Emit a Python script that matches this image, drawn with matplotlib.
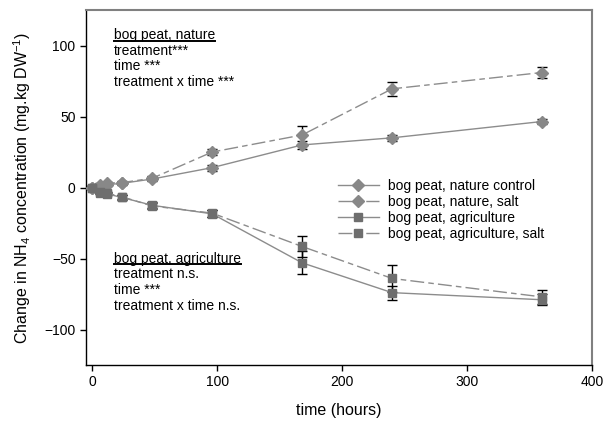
import numpy as np
import matplotlib
matplotlib.use("Agg")
import matplotlib.pyplot as plt
from matplotlib.lines import Line2D

plt.rcParams['font.family'] = ['Liberation Sans', 'DejaVu Sans']
plt.rcParams['mathtext.fontset'] = 'custom'
plt.rcParams['mathtext.rm'] = 'Liberation Sans'
plt.rcParams['mathtext.it'] = 'Liberation Sans:italic'

# ----------------------------------------------
# Data
# ----------------------------------------------

time_h = [0, 6, 12, 24, 48, 96, 168, 240, 360]

nat_ctrl = [0, 1, 2, 3, 6, 14, 30, 35, 46.5]
nat_ctrl_err = [1, 1, 1, 1, 1.5, 2, 3, 2, 2]

nat_salt = [0, 2, 3, 3.5, 6.5, 25, 37, 69.5, 81]
nat_salt_err = [1, 1, 1, 1, 1.5, 2, 6, 5, 4]

agr_ctrl = [0, -3.5, -4.5, -7, -12.5, -18.5, -53, -74, -79]
agr_ctrl_err = [1, 1, 1, 1.5, 2, 2.5, 8, 5, 4]

agr_salt = [0, -3, -4, -6.5, -13, -18, -41.5, -64, -77]
agr_salt_err = [1, 1, 1, 1.5, 2, 2.5, 7.5, 9.5, 5]

labels = ["bog peat, nature control", "bog peat, nature, salt",
          "bog peat, agriculture", "bog peat, agriculture, salt"]

nature_txt = ["treatment***", "time ***", "treatment x time ***"]
agri_txt = ["treatment n.s.", "time ***", "treatment x time n.s."]

# ----------------------------------------------
# Plot
# ----------------------------------------------

fig = plt.figure(figsize=(6.05, 4.26), dpi=100)
ax = fig.add_axes([0.142, 0.143, 0.8365, 0.8335])

dash = (10, 3, 4, 3)
series = [
    (nat_ctrl, nat_ctrl_err, 'D', 6.5, '#888888', '-'),
    (nat_salt, nat_salt_err, 'D', 6.5, '#888888', '--'),
    (agr_ctrl, agr_ctrl_err, 's', 6, '#6e6e6e', '-'),
    (agr_salt, agr_salt_err, 's', 6, '#6e6e6e', '--'),
]

handles = []
for (vals, err, mk, ms, col, ls), lab in zip(series, labels):
    ax.errorbar(time_h, vals, yerr=err, fmt='none', ecolor='black',
                elinewidth=1, capsize=3.5, capthick=1, zorder=2)
    ln, = ax.plot(time_h, vals, color='#8c8c8c', lw=1, marker=mk, ms=ms,
                  mfc=col, mec=col, label=lab, zorder=3)
    if ls == '--':
        ln.set_dashes(dash)
    handles.append(ln)

ax.set_xlim(-5, 400)
ax.set_ylim(-125, 125)
ax.set_xticks([0, 100, 200, 300, 400])
ax.set_yticks([-100, -50, 0, 50, 100])
ax.tick_params(direction='out', length=4, width=1, labelsize=10, top=False, right=False)
for s in ['top', 'right']:
    ax.spines[s].set_color('#808080')
    ax.spines[s].set_linewidth(1.5)
for s in ['left', 'bottom']:
    ax.spines[s].set_linewidth(1)

ax.set_xlabel("time (hours)", fontsize=11.5, labelpad=10)
ax.set_ylabel("Change in NH$_4$ concentration (mg.kg DW$^{-1}$)", fontsize=11.5, labelpad=8)

leg = ax.legend(handles=handles, loc='upper left', bbox_to_anchor=(0.485, 0.545),
                frameon=False, fontsize=10, handlelength=2.9, handletextpad=0.7,
                labelspacing=0.15, borderpad=0)

# annotation blocks
t1 = ax.text(0.055, 0.93, "bog peat, nature", transform=ax.transAxes,
             fontsize=10, va='center')
for i, s in enumerate(nature_txt):
    ax.text(0.055, 0.93 - (i + 1) * 0.0445, s, transform=ax.transAxes,
            fontsize=10, va='center')

t2 = ax.text(0.055, 0.30, "bog peat, agriculture", transform=ax.transAxes,
             fontsize=10, va='center')
for i, s in enumerate(agri_txt):
    ax.text(0.055, 0.30 - (i + 1) * 0.0445, s, transform=ax.transAxes,
            fontsize=10, va='center')

# underline the headers
fig.canvas.draw()
r = fig.canvas.get_renderer()
for t in [t1, t2]:
    bb = t.get_window_extent(r).transformed(fig.transFigure.inverted())
    fig.add_artist(Line2D([bb.x0, bb.x1], [bb.y0 + 0.003, bb.y0 + 0.003],
                          color='black', lw=1.4, transform=fig.transFigure))

fig.savefig("out.png", dpi=100)
